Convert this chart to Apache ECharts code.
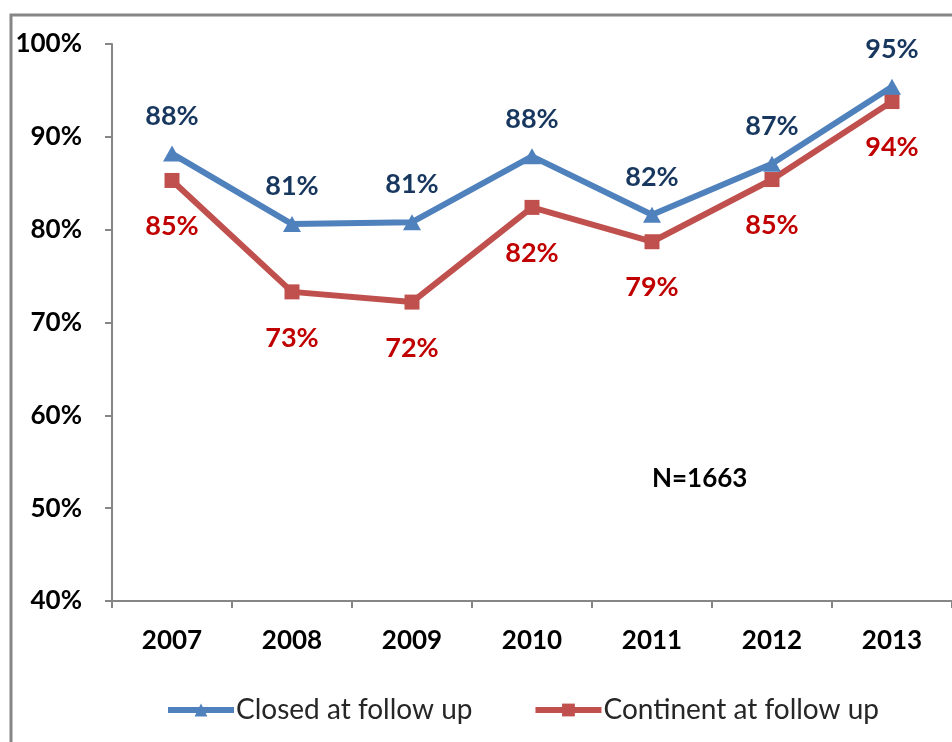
<!DOCTYPE html>
<html>
<head>
<meta charset="utf-8">
<script src="https://cdn.jsdelivr.net/npm/echarts@6/dist/echarts.min.js"></script>
<style>
  html, body { margin: 0; padding: 0; background: #ffffff; }
  #chart { width: 952px; height: 742px; }
</style>
</head>
<body>
<div id="chart"></div>
<script>
// Follow-up outcomes by year
const years = ['2007', '2008', '2009', '2010', '2011', '2012', '2013'];
const closedAtFollowUp = [88.2, 80.6, 80.8, 87.9, 81.6, 87.1, 95.4];
const continentAtFollowUp = [85.3, 73.3, 72.2, 82.4, 78.7, 85.4, 93.8];
const seriesNames = ['Closed at follow up', 'Continent at follow up'];
const sampleNote = 'N=1663';

const FONT = 'Lato, "Open Sans", sans-serif';

const chart = echarts.init(document.getElementById('chart'), null, { renderer: 'canvas' });

const pct = p => Math.round(p.value) + '%';

chart.setOption({
  animation: false,
  backgroundColor: '#ffffff',
  grid: { left: 112, right: 0, top: 44, bottom: 141, containLabel: false },
  graphic: [
    {
      type: 'polyline',
      shape: { points: [[11, 760], [11, 15], [960, 15]] },
      style: { stroke: '#868686', lineWidth: 3, fill: null },
      silent: true
    },
    {
      type: 'text',
      left: 652, top: 466,
      style: { text: sampleNote, font: 'bold 26px ' + FONT, fill: '#000000' }
    }
  ],
  legend: {
    bottom: 13,
    left: 160,
    itemWidth: 66,
    itemHeight: 16,
    itemGap: 60,
    lineStyle: { width: 6 },
    textStyle: { fontFamily: FONT, fontSize: 28, color: '#262626', padding: [0, 0, 0, -3] },
    data: seriesNames
  },
  xAxis: {
    type: 'category',
    data: years,
    boundaryGap: true,
    axisLine: { lineStyle: { color: '#868686', width: 2 } },
    axisTick: { show: true, length: 7, alignWithLabel: false, lineStyle: { color: '#868686', width: 2 } },
    axisLabel: { fontFamily: FONT, fontWeight: 'bold', fontSize: 26, color: '#000000', margin: 27 },
    splitLine: { show: false }
  },
  yAxis: {
    type: 'value',
    min: 40, max: 100, interval: 10,
    axisLine: { show: true, lineStyle: { color: '#868686', width: 2 } },
    axisTick: { show: true, length: 7, inside: false, lineStyle: { color: '#868686', width: 2 } },
    axisLabel: { formatter: '{value}%', fontFamily: FONT, fontWeight: 'bold', fontSize: 26, color: '#000000', margin: 30 },
    splitLine: { show: false }
  },
  series: [
    {
      name: seriesNames[0],
      type: 'line',
      data: closedAtFollowUp,
      symbol: 'triangle',
      symbolSize: [18, 16],
      lineStyle: { color: '#4F81BD', width: 6 },
      itemStyle: { color: '#4F81BD' },
      label: {
        show: true, position: 'top', distance: 16,
        formatter: pct,
        fontFamily: FONT, fontWeight: 'bold', fontSize: 27, color: '#17375E'
      },
      z: 3
    },
    {
      name: seriesNames[1],
      type: 'line',
      data: continentAtFollowUp,
      symbol: 'rect',
      symbolSize: 15,
      lineStyle: { color: '#C0504D', width: 6 },
      itemStyle: { color: '#C0504D' },
      label: {
        show: true, position: 'bottom', distance: 25,
        formatter: pct,
        fontFamily: FONT, fontWeight: 'bold', fontSize: 27, color: '#C00000'
      },
      z: 2
    }
  ]
});
</script>
</body>
</html>
